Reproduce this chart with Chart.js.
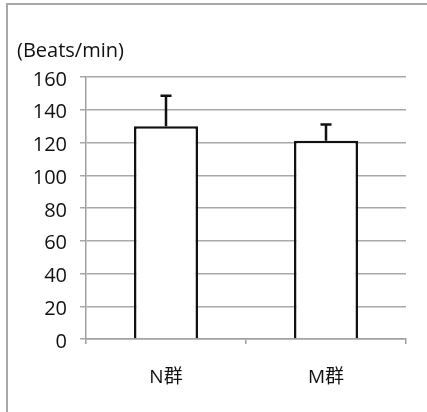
<!DOCTYPE html>
<html>
<head>
<meta charset="utf-8">
<script src="https://cdn.jsdelivr.net/npm/chart.js@4"></script>
<style>
  html, body { margin: 0; padding: 0; background: #fff; }
  #wrap { width: 427px; height: 412px; position: relative; }
</style>
</head>
<body>
<div id="wrap"><canvas id="c" width="427" height="412"></canvas></div>
<script>
const categories = ['N群', 'M群'];
const means = [130, 121];
const errors = [18.5, 10];
const yTicks = [0, 20, 40, 60, 80, 100, 120, 140, 160];
const yUnitLabel = '(Beats/min)';

const FONT = '"Open Sans", "Noto Sans CJK JP", sans-serif';

const extras = {
  id: 'extras',
  beforeDraw(chart) {
    const ctx = chart.ctx;
    ctx.save();
    ctx.fillStyle = '#fff';
    ctx.fillRect(0, 0, chart.width, chart.height);
    ctx.strokeStyle = '#a8a8a8';
    ctx.lineWidth = 2;
    ctx.beginPath();
    ctx.moveTo(7, 412);
    ctx.lineTo(7, 4);
    ctx.lineTo(427, 4);
    ctx.stroke();
    ctx.fillStyle = '#111';
    ctx.font = '20px ' + FONT;
    ctx.textBaseline = 'alphabetic';
    ctx.textAlign = 'left';
    ctx.fillText(yUnitLabel, 17, 57);
    ctx.restore();
  },
  afterDatasetsDraw(chart) {
    const ctx = chart.ctx;
    const meta = chart.getDatasetMeta(0);
    const ys = chart.scales.y;
    ctx.save();
    ctx.strokeStyle = '#111';
    ctx.lineWidth = 2.5;
    meta.data.forEach((bar, i) => {
      const x = bar.x;
      const yTop = ys.getPixelForValue(means[i] + errors[i]);
      const yBase = ys.getPixelForValue(means[i]);
      ctx.beginPath();
      ctx.moveTo(x, yBase);
      ctx.lineTo(x, yTop);
      ctx.moveTo(x - 5.5, yTop);
      ctx.lineTo(x + 5.5, yTop);
      ctx.stroke();
    });
    ctx.restore();
  }
};

new Chart(document.getElementById('c'), {
  type: 'bar',
  data: {
    labels: categories,
    datasets: [{
      data: means,
      backgroundColor: '#ffffff',
      borderColor: '#111111',
      borderWidth: 2.5,
      barPercentage: 0.4,
      categoryPercentage: 1.0
    }]
  },
  options: {
    responsive: false,
    animation: false,
    devicePixelRatio: 1,
    layout: { padding: { top: 77, right: 21, bottom: 0, left: 0 } },
    plugins: { legend: { display: false }, tooltip: { enabled: false }, title: { display: false } },
    scales: {
      x: {
        offset: true,
        afterFit(s) { s.height = 73; },
        grid: {
          offset: true,
          drawOnChartArea: false,
          drawTicks: true,
          tickLength: 5,
          color: '#a0a0a0',
          lineWidth: 1.5
        },
        border: { display: true, color: '#a0a0a0', width: 1.5 },
        ticks: {
          color: '#111',
          font: { family: FONT, size: 19 },
          padding: 22
        }
      },
      y: {
        min: 0,
        max: 160,
        afterFit(s) { s.width = 86; },
        afterBuildTicks(s) { s.ticks = yTicks.map(v => ({ value: v })); },
        grid: {
          color: '#a8a8a8',
          lineWidth: 1.5,
          tickLength: 6,
          drawTicks: true
        },
        border: { display: true, color: '#a0a0a0', width: 1.5 },
        ticks: {
          color: '#111',
          font: { family: FONT, size: 20 },
          padding: 13,
          labelOffset: 3
        }
      }
    }
  },
  plugins: [extras]
});
</script>
</body>
</html>
